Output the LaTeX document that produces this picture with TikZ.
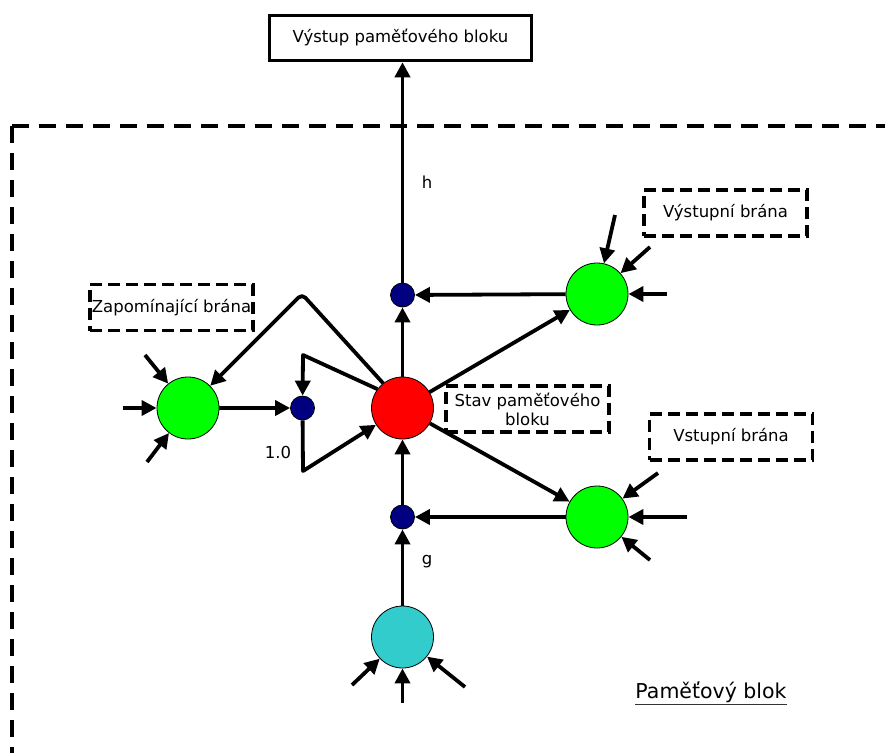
\documentclass[tikz,border=0pt]{standalone}
\usepackage{fontspec}
\setmainfont{DejaVu Sans}
\usetikzlibrary{arrows.meta}
\definecolor{gatecol}{RGB}{0,255,0}
\definecolor{inpcol}{RGB}{51,204,204}
\definecolor{mulcol}{RGB}{0,0,128}
\definecolor{cellcol}{RGB}{255,0,0}
\begin{document}
\begin{tikzpicture}[x=1pt,y=-1pt,
  font=\fontsize{16.5}{19}\selectfont,
  wire/.style={line width=3.8pt,line join=round},
  flow/.style={wire,-{Triangle[length=15pt,width=15pt]}},
  unit/.style={circle,draw=black,line width=0.8pt,minimum size=62pt,inner sep=0pt},
  mul/.style={circle,draw=black,line width=0.8pt,minimum size=24pt,inner sep=0pt,fill=mulcol},
  tag/.style={draw,line width=3.5pt,dash pattern=on 12pt off 6pt,minimum width=163pt,
    minimum height=46pt,align=center,inner sep=2pt},
  frame/.style={line width=3.6pt,dash pattern=on 17pt off 10pt}
]
\useasboundingbox (0,0) rectangle (885,753);

% memory block frame
\draw[frame] (12,126) -- (885,126);
\draw[frame] (12,126) -- (12,753);

% output box
\node[draw,line width=3.5pt,minimum width=262pt,minimum height=45pt] (outbox) at (400.5,38) {Výstup paměťového bloku};

% units
\node[unit,fill=cellcol] (cell) at (402.5,408) {};
\node[unit,fill=gatecol] (fg) at (188,408) {};
\node[unit,fill=gatecol] (og) at (597,294) {};
\node[unit,fill=gatecol] (ig) at (597,517) {};
\node[unit,fill=inpcol] (cin) at (402.5,637) {};
\node[mul] (hs) at (402.5,295) {};
\node[mul] (gs) at (402.5,517) {};
\node[mul] (fs) at (302.5,408) {};

% gate tags
\node[tag] (tfg) at (171.5,307.5) {Zapomínající brána};
\node[tag] (tcell) at (527.5,409) {Stav paměťového\\bloku};
\node[tag] (tog) at (725.5,213) {Výstupní brána};
\node[tag] (tig) at (731,437) {Vstupní brána};

% labels
\node (lh) at (427,182) {h};
\node (lg) at (427,562) {g};
\node (lone) at (278,452) {1.0};
\node[inner sep=0pt,font=\fontsize{20.5}{24}\selectfont] (pb) at (711,692) {Paměťový blok};
\draw[line width=1.2pt,black!80] ([yshift=-6pt]pb.base west) -- ([yshift=-6pt]pb.base east);

% corner points
\coordinate (lp1) at (303,471);
\coordinate (lp2) at (303,355);
\coordinate (fk) at (302,294);

% free input ends
\coordinate (a1) at (123,408);
\coordinate (a2) at (145,355);
\coordinate (a3) at (147,462);
\coordinate (b1) at (615,215);
\coordinate (b2) at (650,247);
\coordinate (b3) at (667,294);
\coordinate (c1) at (658,473);
\coordinate (c2) at (687,517);
\coordinate (c3) at (650,560);
\coordinate (d1) at (352,685);
\coordinate (d2) at (402.5,703);
\coordinate (d3) at (465,687);

% main connectors
\draw[flow] (hs) -- (hs |- outbox.south);
\draw[flow] (cell) -- (hs);
\draw[flow] (og) -- (hs);
\draw[flow] (cell) -- (og);
\draw[flow] (gs) -- (cell);
\draw[flow] (ig) -- (gs);
\draw[flow] (cell) -- (ig);
\draw[flow] (cin) -- (gs);
\draw[flow] (fg) -- (fs);

% constant error carousel
\draw[flow] (fs) -- (lp1) -- (cell);
\draw[flow] (cell.143) -- (lp2) -- (fs);
\draw[flow,rounded corners=5pt] (cell.128) -- (fk) -- (fg);

% gate inputs
\foreach \p in {a1,a2,a3} \draw[flow] (\p) -- (fg);
\foreach \p in {b1,b2,b3} \draw[flow] (\p) -- (og);
\foreach \p in {c1,c2,c3} \draw[flow] (\p) -- (ig);
\foreach \p in {d1,d2,d3} \draw[flow] (\p) -- (cin);
\end{tikzpicture}
\end{document}
